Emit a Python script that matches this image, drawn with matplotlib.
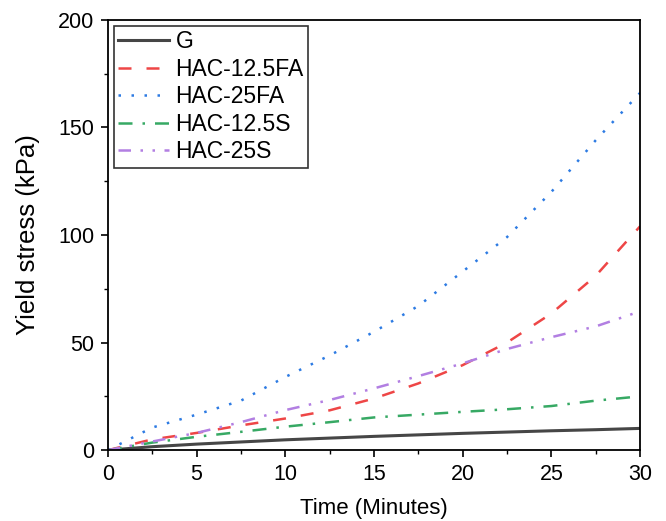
import numpy as np
import matplotlib.pyplot as plt
from matplotlib.ticker import MultipleLocator

plt.rcParams["font.family"] = ["Liberation Sans", "DejaVu Sans"]

# =========================
# DATA
# =========================
time_min = [0, 2.5, 5, 7.5, 10, 12.5, 15, 17.5, 20, 22.5, 25, 27.5, 30]

g = [0, 1.6, 2.8, 3.8, 4.8, 5.6, 6.4, 7.1, 7.8, 8.4, 9.0, 9.5, 10.1]
hac_125fa = [0, 5.0, 8.0, 11.5, 14.7, 18.5, 24.0, 31.0, 39.5, 50.0, 63.5, 81.0, 104.0]
hac_25fa = [0, 10.5, 16.5, 23.0, 34.0, 44.0, 55.0, 67.0, 83.0, 99.0, 120.0, 144.0, 166.0]
hac_125s = [0, 3.5, 6.2, 8.5, 10.9, 13.0, 15.2, 16.5, 17.8, 19.0, 20.5, 23.0, 25.0]
hac_25s = [0, 4.0, 8.0, 13.0, 18.6, 23.3, 28.7, 34.4, 40.3, 47.0, 52.5, 57.5, 64.5]

SERIES = [
    ("G", g, "#464646", "-", 2.2),
    ("HAC-12.5FA", hac_125fa, "#ee4646", (0, (5.2, 6)), 1.8),
    ("HAC-25FA", hac_25fa, "#2d7be3", (0, (1, 4.2)), 1.8),
    ("HAC-12.5S", hac_125s, "#37a964", (0, (5.6, 4, 1, 4)), 1.8),
    ("HAC-25S", hac_25s, "#b27fe2", (0, (5, 3.8, 1, 3.8, 1, 3.8)), 1.8),
]

fig = plt.figure(figsize=(6.66, 5.21), dpi=100)
ax = fig.add_axes([0.162, 0.136, 0.799, 0.826])

for label, vals, color, ls, lw in SERIES:
    ax.plot(time_min, vals, color=color, linestyle=ls, linewidth=lw, label=label)

ax.set_xlim(0, 30)
ax.set_ylim(0, 200)
ax.xaxis.set_major_locator(MultipleLocator(5))
ax.xaxis.set_minor_locator(MultipleLocator(2.5))
ax.yaxis.set_major_locator(MultipleLocator(50))
ax.yaxis.set_minor_locator(MultipleLocator(25))
ax.tick_params(which="major", direction="out", length=5, width=1.2,
               labelsize=15.5, pad=5)
ax.tick_params(which="minor", direction="out", length=2.8, width=1.0)
for sp in ax.spines.values():
    sp.set_linewidth(1.3)

ax.set_xlabel("Time (Minutes)", fontsize=16, labelpad=9)
ax.set_ylabel("Yield stress (kPa)", fontsize=18.5, labelpad=13)

leg = ax.legend(loc="upper left", fontsize=16.5, frameon=True, fancybox=False,
                handlelength=2.2, handletextpad=0.3, borderpad=0.2,
                borderaxespad=0.25, labelspacing=0.2)
leg.get_frame().set_edgecolor("black")
leg.get_frame().set_linewidth(1.2)

fig.savefig("out.png", dpi=100)
